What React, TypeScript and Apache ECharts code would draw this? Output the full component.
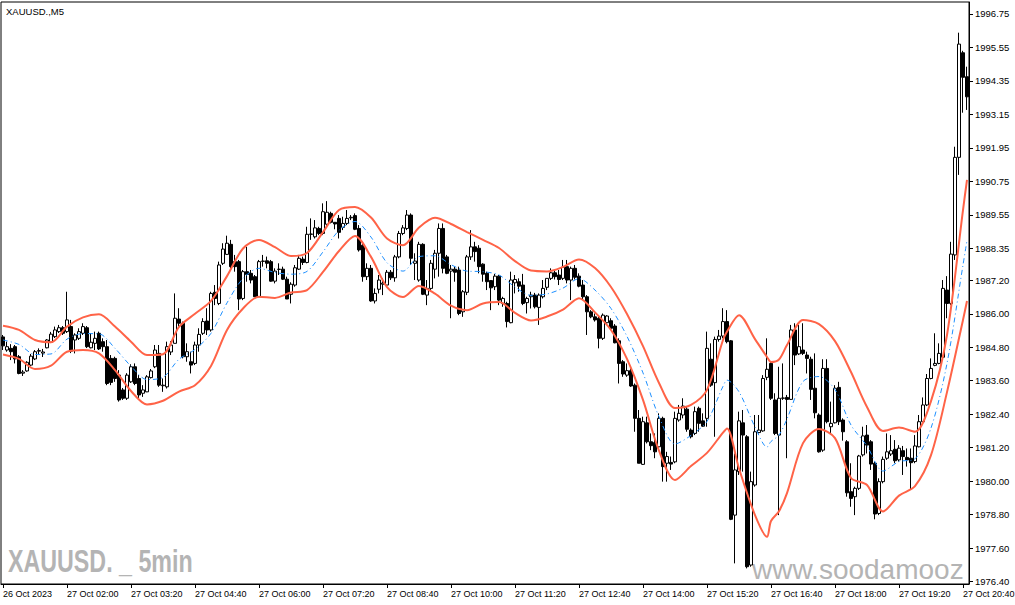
import React, { useEffect, useRef } from "react";
import * as echarts from "echarts";

// x-axis labels, one every 16 bars (80 minutes of 5-minute bars)
const tickLabels = [
  "26 Oct 2023", "27 Oct 02:00", "27 Oct 03:20", "27 Oct 04:40", "27 Oct 06:00",
  "27 Oct 07:20", "27 Oct 08:40", "27 Oct 10:00", "27 Oct 11:20", "27 Oct 12:40",
  "27 Oct 14:00", "27 Oct 15:20", "27 Oct 16:40", "27 Oct 18:00", "27 Oct 19:20",
  "27 Oct 20:40",
];
const barsPerLabel = 16;

// right price scale labels
const yTickValues = [
  1976.4, 1977.6, 1978.8, 1980.0, 1981.2, 1982.4, 1983.6, 1984.8, 1986.0,
  1987.2, 1988.35, 1989.55, 1990.75, 1991.95, 1993.15, 1994.35, 1995.55, 1996.75,
];

const open = [
  1985.17, 1984.70, 1984.76, 1984.82, 1984.46, 1983.87, 1983.95, 1984.16, 1984.38, 1984.66,
  1984.59, 1984.78, 1984.98, 1985.18, 1985.36, 1985.50, 1985.36, 1985.54, 1985.06, 1985.12,
  1985.30, 1985.50, 1984.78, 1984.94, 1985.30, 1985.00, 1984.82, 1984.40, 1984.40, 1983.80,
  1983.27, 1982.97, 1983.56, 1984.10, 1983.68, 1983.15, 1983.20, 1983.71, 1984.10, 1984.58,
  1983.42, 1983.38, 1984.63, 1984.94, 1985.81, 1985.66, 1984.46, 1984.28, 1984.22, 1984.88,
  1985.30, 1985.74, 1985.42, 1986.77, 1986.37, 1987.81, 1988.13, 1988.49, 1987.87, 1987.87,
  1986.55, 1987.51, 1987.45, 1987.33, 1986.61, 1987.88, 1987.90, 1987.87, 1987.17, 1987.59,
  1987.60, 1987.24, 1986.70, 1987.03, 1987.60, 1987.96, 1987.84, 1988.85, 1988.76, 1989.06,
  1988.88, 1989.21, 1989.60, 1989.28, 1989.42, 1989.10, 1989.24, 1989.44, 1989.52, 1989.06,
  1988.46, 1987.33, 1987.63, 1986.46, 1986.88, 1987.06, 1987.03, 1987.49, 1987.29, 1988.04,
  1988.88, 1989.06, 1989.54, 1987.81, 1987.21, 1988.49, 1986.67, 1986.91, 1987.60, 1988.17,
  1989.06, 1988.04, 1987.53, 1987.60, 1987.57, 1986.07, 1986.77, 1988.04, 1988.40, 1988.35,
  1987.78, 1987.45, 1987.19, 1986.97, 1987.35, 1986.37, 1986.37, 1985.68, 1987.11, 1987.15,
  1987.03, 1986.40, 1986.61, 1986.67, 1986.23, 1986.61, 1986.95, 1987.27, 1987.47, 1987.39,
  1987.27, 1987.69, 1987.21, 1987.63, 1987.35, 1987.03, 1986.61, 1986.07, 1985.89, 1985.84,
  1985.12, 1985.68, 1985.75, 1985.56, 1985.03, 1984.28, 1983.80, 1983.96, 1983.44, 1982.25,
  1980.60, 1982.09, 1981.41, 1981.38, 1981.23, 1982.25, 1980.64, 1980.67, 1980.69, 1982.19,
  1982.37, 1982.58, 1981.83, 1981.71, 1982.61, 1982.16, 1982.25, 1984.37, 1983.53, 1985.08,
  1985.20, 1985.72, 1985.03, 1978.78, 1980.34, 1982.09, 1981.59, 1976.99, 1979.86, 1981.74,
  1981.80, 1983.72, 1984.22, 1982.91, 1981.65, 1982.97, 1983.00, 1982.93, 1985.42, 1984.56,
  1984.70, 1984.52, 1984.37, 1983.33, 1982.37, 1981.11, 1984.04, 1981.95, 1982.09, 1983.36,
  1982.19, 1981.41, 1979.62, 1979.44, 1979.74, 1980.94, 1981.65, 1981.41, 1980.64, 1978.84,
  1979.98, 1980.82, 1980.97, 1981.14, 1980.76, 1981.09, 1980.85, 1980.82, 1980.70, 1981.23,
  1982.13, 1982.73, 1983.68, 1984.15, 1984.22, 1984.44, 1986.85, 1986.37, 1988.11, 1991.61,
  1995.36, 1994.50,
];

const close = [
  1984.85, 1984.82, 1984.64, 1984.38, 1983.86, 1983.91, 1984.26, 1984.48, 1984.64, 1984.68,
  1984.63, 1985.06, 1985.27, 1985.42, 1985.50, 1985.30, 1985.78, 1984.66, 1985.24, 1985.36,
  1985.54, 1984.82, 1984.98, 1985.12, 1984.74, 1984.82, 1983.50, 1983.54, 1983.68, 1982.91,
  1982.97, 1983.80, 1984.10, 1983.50, 1983.09, 1983.27, 1983.74, 1983.95, 1984.70, 1983.44,
  1983.44, 1984.82, 1984.88, 1985.84, 1985.66, 1984.46, 1984.64, 1984.16, 1984.88, 1985.26,
  1985.72, 1985.42, 1986.73, 1986.55, 1987.75, 1988.32, 1988.53, 1987.69, 1987.69, 1986.53,
  1987.51, 1987.41, 1987.21, 1986.61, 1987.87, 1987.89, 1987.81, 1987.17, 1987.53, 1987.60,
  1987.24, 1986.53, 1987.06, 1987.65, 1987.99, 1987.84, 1988.85, 1988.86, 1989.08, 1988.88,
  1989.66, 1989.64, 1989.28, 1989.22, 1988.92, 1989.24, 1989.42, 1989.46, 1989.03, 1988.29,
  1987.33, 1987.63, 1986.46, 1986.73, 1987.21, 1987.10, 1987.49, 1987.29, 1988.04, 1988.88,
  1989.08, 1989.54, 1987.99, 1987.89, 1988.49, 1986.70, 1986.91, 1987.81, 1988.17, 1989.06,
  1987.63, 1987.45, 1987.60, 1987.49, 1986.01, 1986.79, 1988.04, 1988.40, 1988.23, 1987.69,
  1987.42, 1987.15, 1986.93, 1987.35, 1986.49, 1986.55, 1985.72, 1987.21, 1987.23, 1986.99,
  1986.37, 1986.55, 1986.67, 1986.25, 1986.67, 1986.91, 1987.27, 1987.47, 1987.33, 1987.23,
  1987.67, 1987.21, 1987.63, 1987.31, 1986.99, 1986.61, 1986.07, 1985.89, 1985.78, 1985.12,
  1985.95, 1985.92, 1985.48, 1984.96, 1984.22, 1983.84, 1983.96, 1983.41, 1982.25, 1980.64,
  1982.13, 1981.41, 1981.27, 1981.05, 1982.25, 1980.52, 1980.88, 1980.61, 1982.25, 1982.43,
  1982.69, 1981.86, 1981.59, 1982.49, 1982.07, 1981.97, 1984.76, 1983.44, 1985.08, 1985.20,
  1985.72, 1985.00, 1978.63, 1980.40, 1982.16, 1981.65, 1976.93, 1979.98, 1981.77, 1981.83,
  1983.68, 1984.01, 1982.97, 1981.71, 1982.97, 1982.98, 1982.93, 1985.42, 1984.52, 1984.82,
  1984.58, 1984.40, 1983.29, 1982.45, 1981.05, 1984.04, 1982.13, 1982.07, 1983.33, 1982.13,
  1981.77, 1979.58, 1979.38, 1979.74, 1980.90, 1981.62, 1981.29, 1980.61, 1978.82, 1979.98,
  1980.78, 1981.05, 1981.09, 1980.73, 1981.18, 1980.88, 1980.76, 1980.66, 1981.26, 1982.13,
  1982.73, 1983.68, 1984.04, 1984.22, 1984.58, 1986.91, 1986.37, 1988.14, 1991.61, 1995.67,
  1994.48, 1993.78,
];

const high = [
  1985.24, 1985.00, 1984.91, 1984.88, 1984.52, 1983.98, 1984.30, 1984.56, 1984.70, 1984.76,
  1984.74, 1985.09, 1985.35, 1985.54, 1985.60, 1985.56, 1986.79, 1985.78, 1985.30, 1985.48,
  1985.66, 1985.56, 1985.31, 1985.36, 1985.36, 1985.12, 1985.06, 1984.52, 1984.46, 1983.98,
  1983.34, 1983.87, 1984.19, 1984.22, 1983.80, 1983.44, 1983.80, 1984.02, 1984.88, 1984.88,
  1983.68, 1985.00, 1985.02, 1986.73, 1986.20, 1985.72, 1984.94, 1984.64, 1985.00, 1985.48,
  1985.84, 1986.20, 1986.79, 1987.03, 1987.87, 1988.53, 1988.80, 1988.65, 1988.11, 1987.93,
  1987.57, 1988.40, 1987.57, 1987.39, 1987.93, 1988.11, 1988.05, 1987.93, 1987.63, 1987.81,
  1987.69, 1987.33, 1987.13, 1987.75, 1988.11, 1988.05, 1989.12, 1989.42, 1989.36, 1989.12,
  1989.96, 1990.04, 1989.66, 1989.29, 1989.54, 1989.48, 1989.72, 1989.54, 1989.60, 1989.18,
  1988.58, 1987.81, 1987.75, 1986.91, 1987.39, 1987.27, 1987.57, 1987.57, 1988.11, 1988.97,
  1989.18, 1989.72, 1989.60, 1988.17, 1988.58, 1988.53, 1987.21, 1987.93, 1988.29, 1989.24,
  1989.24, 1988.11, 1987.75, 1987.69, 1987.69, 1986.85, 1988.11, 1989.00, 1988.58, 1988.46,
  1987.81, 1987.51, 1987.21, 1987.43, 1987.39, 1986.61, 1986.43, 1987.51, 1987.39, 1987.27,
  1987.43, 1986.61, 1986.79, 1986.75, 1986.73, 1987.21, 1987.27, 1987.63, 1987.57, 1987.57,
  1987.93, 1987.93, 1987.69, 1987.75, 1987.45, 1987.21, 1986.67, 1986.13, 1986.01, 1985.95,
  1986.01, 1985.95, 1985.84, 1985.63, 1985.12, 1984.34, 1984.22, 1984.04, 1983.50, 1982.55,
  1982.31, 1982.31, 1981.71, 1981.71, 1982.43, 1982.31, 1981.05, 1980.88, 1982.49, 1982.73,
  1982.97, 1982.67, 1981.89, 1982.67, 1982.67, 1982.43, 1985.36, 1984.94, 1985.18, 1985.42,
  1986.20, 1986.13, 1985.06, 1980.99, 1982.49, 1982.55, 1981.65, 1980.34, 1982.37, 1982.37,
  1983.80, 1985.12, 1984.28, 1983.15, 1984.10, 1984.22, 1983.09, 1985.60, 1985.66, 1985.60,
  1985.66, 1984.64, 1984.46, 1984.58, 1982.43, 1984.37, 1984.37, 1982.85, 1983.44, 1983.56,
  1982.25, 1981.47, 1980.64, 1979.80, 1980.94, 1981.95, 1982.01, 1981.47, 1980.70, 1980.10,
  1980.88, 1981.71, 1981.65, 1981.47, 1981.29, 1981.26, 1981.17, 1981.17, 1981.65, 1982.37,
  1983.00, 1983.84, 1984.40, 1985.30, 1984.94, 1987.21, 1987.35, 1988.58, 1991.99, 1996.08,
  1995.43, 1994.86,
];

const low = [
  1984.70, 1984.64, 1984.34, 1984.22, 1983.83, 1983.77, 1983.92, 1984.13, 1984.34, 1984.52,
  1984.45, 1984.76, 1984.95, 1985.13, 1985.31, 1985.24, 1985.31, 1984.59, 1984.58, 1985.06,
  1985.24, 1984.77, 1984.76, 1984.70, 1984.70, 1984.64, 1983.44, 1983.44, 1983.56, 1982.85,
  1982.91, 1982.91, 1983.52, 1983.44, 1982.98, 1983.02, 1983.19, 1983.68, 1984.05, 1983.38,
  1983.20, 1983.32, 1984.52, 1984.94, 1985.54, 1984.40, 1984.28, 1983.86, 1984.16, 1984.64,
  1985.24, 1985.24, 1985.36, 1986.31, 1986.31, 1987.75, 1988.11, 1987.63, 1987.51, 1986.13,
  1986.49, 1987.15, 1987.09, 1986.61, 1986.61, 1987.69, 1987.63, 1987.15, 1987.09, 1987.39,
  1987.21, 1986.53, 1986.37, 1986.97, 1987.57, 1987.75, 1987.81, 1988.65, 1988.70, 1988.82,
  1988.82, 1989.12, 1989.24, 1989.03, 1988.70, 1989.00, 1989.18, 1989.36, 1989.00, 1988.23,
  1987.15, 1987.21, 1986.43, 1986.37, 1986.73, 1986.67, 1986.97, 1987.21, 1987.15, 1987.99,
  1988.82, 1989.00, 1987.75, 1987.21, 1987.15, 1986.67, 1986.31, 1986.85, 1987.27, 1987.33,
  1987.45, 1987.42, 1985.84, 1987.15, 1985.95, 1985.89, 1986.67, 1987.93, 1987.87, 1987.45,
  1987.15, 1986.85, 1986.13, 1986.85, 1986.31, 1986.25, 1985.51, 1985.66, 1986.73, 1986.79,
  1986.31, 1986.01, 1986.19, 1986.19, 1985.60, 1986.55, 1986.85, 1987.21, 1987.23, 1987.03,
  1987.21, 1987.09, 1986.49, 1987.23, 1986.95, 1986.49, 1985.24, 1985.84, 1985.72, 1984.76,
  1985.06, 1985.63, 1985.42, 1984.94, 1983.50, 1983.74, 1983.74, 1983.38, 1981.77, 1980.64,
  1980.58, 1981.35, 1981.11, 1980.82, 1981.17, 1979.98, 1979.98, 1980.40, 1980.64, 1982.13,
  1982.25, 1981.77, 1981.53, 1981.65, 1981.77, 1981.95, 1981.95, 1983.38, 1981.59, 1985.00,
  1985.12, 1984.94, 1978.60, 1977.05, 1980.22, 1980.34, 1976.87, 1976.93, 1979.80, 1981.71,
  1981.77, 1983.62, 1982.91, 1981.65, 1978.78, 1982.91, 1980.82, 1982.91, 1984.16, 1984.52,
  1984.52, 1983.86, 1982.91, 1982.25, 1981.02, 1981.05, 1982.07, 1981.71, 1982.07, 1982.01,
  1981.45, 1979.44, 1979.08, 1978.78, 1979.68, 1980.88, 1980.99, 1980.40, 1978.63, 1978.78,
  1979.92, 1980.76, 1980.90, 1980.64, 1980.70, 1980.22, 1980.52, 1979.68, 1980.64, 1981.21,
  1982.07, 1982.69, 1983.65, 1984.12, 1984.19, 1984.40, 1985.84, 1986.31, 1987.93, 1990.98,
  1993.21, 1993.31,
];

// Bollinger band readings at these bar indices
const bandIdx = [
  0, 4, 8, 12, 16, 20, 24, 28, 32, 36, 40, 44, 48, 52, 56, 60, 64, 68, 72, 76,
  80, 84, 88, 92, 96, 100, 104, 108, 112, 116, 120, 124, 128, 132, 136, 140, 144, 148, 152, 156,
  160, 164, 168, 172, 176, 180, 181, 184, 188, 191, 192, 194, 196, 200, 204, 208, 212, 216, 220, 224,
  228, 232, 236, 240, 241,
];
const upperBand = [
  1985.57, 1985.42, 1985.06, 1984.98, 1985.54, 1985.87, 1985.98, 1985.54, 1985.00, 1984.52,
  1984.55, 1985.53, 1986.00, 1986.46, 1987.35, 1988.34, 1988.65, 1988.39, 1988.07, 1988.18,
  1988.93, 1989.72, 1989.83, 1989.45, 1988.70, 1988.46, 1989.09, 1989.44, 1989.22, 1988.93,
  1988.65, 1988.36, 1987.89, 1987.55, 1987.52, 1987.68, 1987.95, 1987.64, 1986.96, 1985.99,
  1984.84, 1983.52, 1982.62, 1982.73, 1983.27, 1985.06, 1985.36, 1985.95, 1985.09, 1984.45,
  1984.27, 1984.36, 1984.88, 1985.78, 1985.63, 1985.02, 1983.91, 1982.66, 1981.80, 1981.92,
  1981.77, 1982.87, 1985.24, 1989.72, 1990.80,
];
const middleBand = [
  1985.06, 1984.90, 1984.54, 1984.56, 1985.09, 1985.29, 1985.28, 1984.76, 1984.12, 1983.64,
  1983.72, 1984.37, 1984.72, 1985.30, 1986.39, 1987.27, 1987.63, 1987.48, 1987.42, 1987.52,
  1988.22, 1988.99, 1989.31, 1988.75, 1987.83, 1987.53, 1988.05, 1988.08, 1987.76, 1987.53,
  1987.51, 1987.39, 1986.96, 1986.66, 1986.71, 1986.92, 1987.26, 1986.85, 1986.19, 1985.19,
  1983.88, 1982.31, 1981.33, 1981.64, 1982.14, 1983.40, 1983.62, 1983.20, 1981.94, 1981.22,
  1981.42, 1981.65, 1982.23, 1983.57, 1983.75, 1983.28, 1982.01, 1981.26, 1980.36, 1980.70,
  1980.80, 1981.90, 1984.22, 1987.75, 1988.63,
];
const lowerBand = [
  1984.54, 1984.38, 1984.02, 1984.14, 1984.64, 1984.70, 1984.58, 1983.98, 1983.23, 1982.75,
  1982.88, 1983.21, 1983.44, 1984.13, 1985.42, 1986.19, 1986.61, 1986.57, 1986.76, 1986.85,
  1987.50, 1988.25, 1988.79, 1988.04, 1986.96, 1986.60, 1987.00, 1986.72, 1986.29, 1986.13,
  1986.37, 1986.42, 1986.03, 1985.76, 1985.90, 1986.15, 1986.56, 1986.05, 1985.42, 1984.38,
  1982.91, 1981.09, 1980.04, 1980.54, 1981.01, 1981.74, 1981.89, 1980.45, 1978.78, 1978.00,
  1978.57, 1978.92, 1979.57, 1981.36, 1981.87, 1981.54, 1980.11, 1979.86, 1978.91, 1979.48,
  1979.82, 1980.93, 1983.19, 1985.78, 1986.46,
];

export default function App() {
  const ref = useRef<HTMLDivElement>(null);

  useEffect(() => {
    if (!ref.current) return;
    const chart = echarts.init(ref.current, null, { renderer: "svg" });
    const n = Math.min(open.length, close.length, high.length, low.length);
    const cats = Array.from({ length: n }, (_, i) => String(i));
    const candles = cats.map((_, i) => [open[i], close[i], low[i], high[i]]);
    const band = (arr: number[]) => bandIdx.map((x, k) => [x, arr[k]]);
    const font = "Liberation Sans";
    const showTick = (i: number) => i % barsPerLabel === 0;

    chart.setOption({
      animation: false,
      backgroundColor: "#ffffff",
      grid: {
        left: 1,
        top: 2,
        width: 968,
        height: 582,
        show: true,
        borderColor: "#000",
        borderWidth: 1,
        containLabel: false,
        outerBoundsMode: "none",
      },
      xAxis: {
        type: "category",
        data: cats,
        boundaryGap: true,
        axisLine: { show: true, lineStyle: { color: "#000", width: 1 } },
        axisTick: {
          show: true,
          alignWithLabel: true,
          interval: (i: number) => showTick(i),
          length: 4,
          lineStyle: { color: "#000" },
        },
        axisLabel: {
          interval: (i: number) => showTick(i),
          formatter: (_v: string, i: number) => tickLabels[Math.round(i / barsPerLabel)] ?? "",
          align: "left",
          margin: 5,
          color: "#000",
          fontSize: 9,
          fontFamily: font,
        },
        splitLine: { show: false },
      },
      yAxis: {
        type: "value",
        position: "right",
        min: 1976.31,
        max: 1997.18,
        axisLine: { show: true, lineStyle: { color: "#000", width: 1 } },
        axisTick: {
          show: true,
          length: 4,
          customValues: yTickValues,
          lineStyle: { color: "#000" },
        },
        axisLabel: {
          customValues: yTickValues,
          formatter: (v: number) => v.toFixed(2),
          margin: 6,
          color: "#000",
          fontSize: 9.5,
          fontFamily: font,
        },
        splitLine: { show: false },
      },
      graphic: [
        {
          type: "text",
          x: 8,
          y: 546,
          scaleX: 0.75,
          z: 0,
          style: {
            text: "XAUUSD. _ 5min",
            fill: "#b4b4b4",
            font: `bold 31px "${font}"`,
            verticalAlign: "top",
          },
        },
        {
          type: "text",
          x: 752,
          y: 555,
          z: 0,
          style: {
            text: "www.soodamooz",
            fill: "#b4b4b4",
            font: `28px "${font}"`,
            verticalAlign: "top",
          },
        },
        {
          type: "text",
          x: 6,
          y: 6,
          z: 10,
          style: {
            text: "XAUUSD.,M5",
            fill: "#000",
            font: `9.5px "${font}"`,
            verticalAlign: "top",
          },
        },
      ],
      series: [
        {
          type: "candlestick",
          data: candles,
          barWidth: 3,
          z: 3,
          itemStyle: {
            color: "#ffffff",
            color0: "#000000",
            borderColor: "#000000",
            borderColor0: "#000000",
            borderColorDoji: "#000000",
            borderWidth: 1,
          },
        },
        {
          type: "line",
          data: band(upperBand),
          symbol: "none",
          smooth: 0.3,
          z: 4,
          lineStyle: { color: "#ff6347", width: 2 },
        },
        {
          type: "line",
          data: band(lowerBand),
          symbol: "none",
          smooth: 0.3,
          z: 4,
          lineStyle: { color: "#ff6347", width: 2 },
        },
        {
          type: "line",
          data: band(middleBand),
          symbol: "none",
          smooth: 0.3,
          z: 4,
          lineStyle: { color: "#1e90ff", width: 1, type: [5, 3, 1, 3] },
        },
      ],
    });

    return () => chart.dispose();
  }, []);

  return (
    <div
      ref={ref}
      style={{ position: "absolute", left: 0, top: 0, width: 1015, height: 605, background: "#fff" }}
    />
  );
}
